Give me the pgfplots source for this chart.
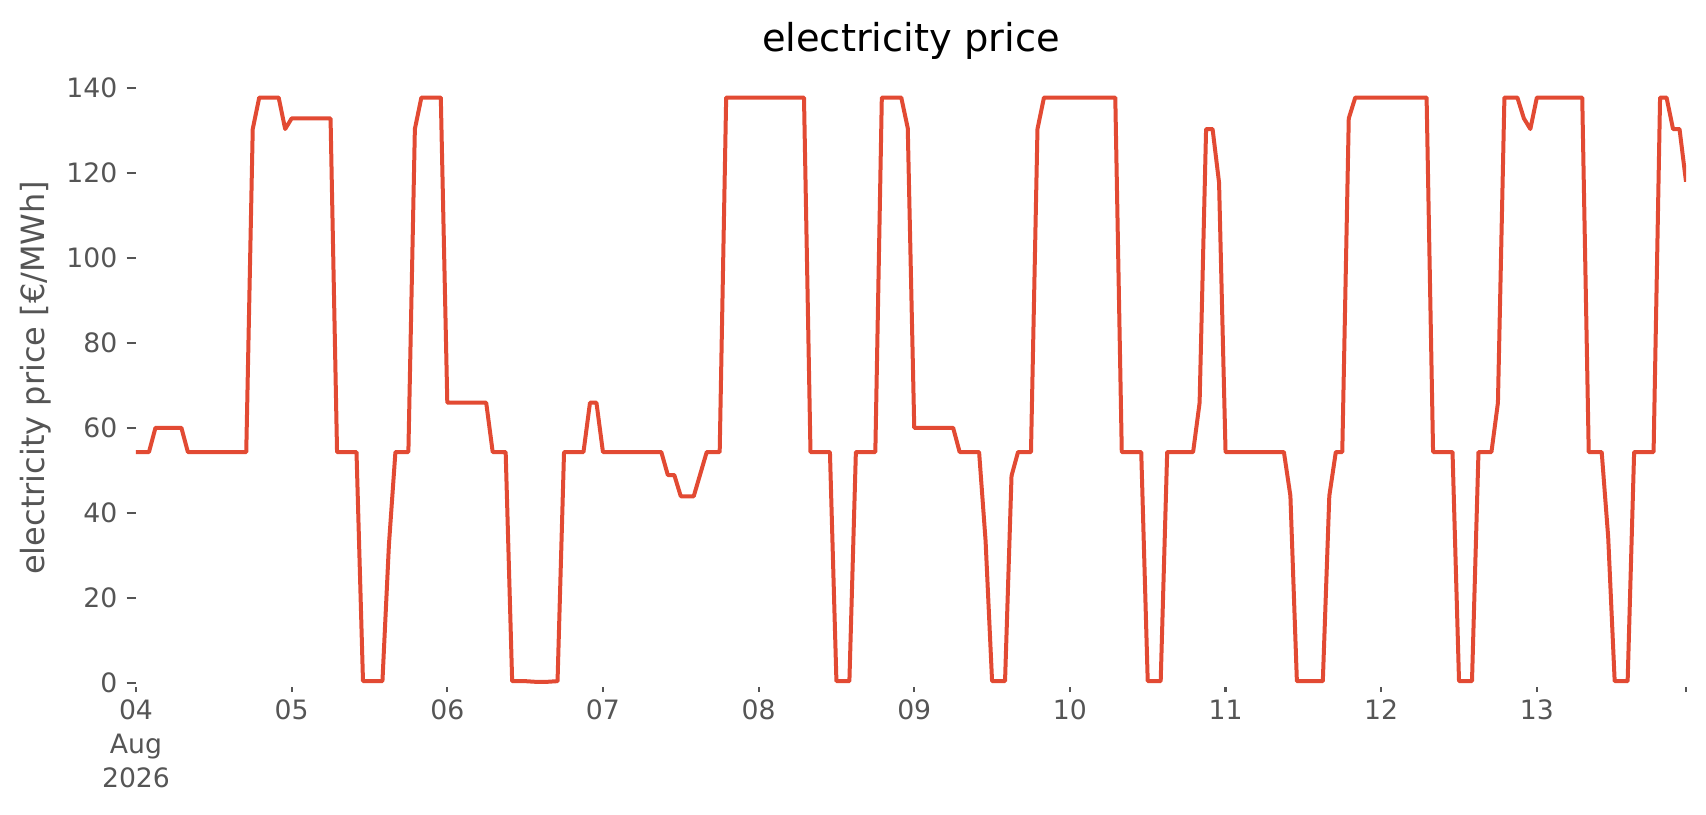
\documentclass[border=0pt]{standalone}
\usepackage{fontspec}
\setmainfont{DejaVu Sans}
\usepackage{pgfplots}
\usepackage{pgfplotstable}
\pgfplotsset{compat=1.18}
\definecolor{lineRed}{HTML}{E24A33}
\definecolor{tickGrey}{HTML}{555555}
\pgfplotstableread{
h v
0 54.4
1 54.4
2 54.4
3 60.1
4 60.1
5 60.1
6 60.1
7 60.1
8 54.4
9 54.4
10 54.4
11 54.4
12 54.4
13 54.4
14 54.4
15 54.4
16 54.4
17 54.4
18 130.4
19 137.8
20 137.8
21 137.8
22 137.8
23 130.4
24 132.9
25 132.9
26 132.9
27 132.9
28 132.9
29 132.9
30 132.9
31 54.4
32 54.4
33 54.4
34 54.4
35 0.5
36 0.5
37 0.5
38 0.5
39 32.6
40 54.4
41 54.4
42 54.4
43 130.4
44 137.8
45 137.8
46 137.8
47 137.8
48 66.0
49 66.0
50 66.0
51 66.0
52 66.0
53 66.0
54 66.0
55 54.4
56 54.4
57 54.4
58 0.5
59 0.5
60 0.5
61 0.4
62 0.3
63 0.3
64 0.4
65 0.5
66 54.4
67 54.4
68 54.4
69 54.4
70 66.0
71 66.0
72 54.4
73 54.4
74 54.4
75 54.4
76 54.4
77 54.4
78 54.4
79 54.4
80 54.4
81 54.4
82 49.0
83 49.0
84 44.0
85 44.0
86 44.0
87 49.2
88 54.4
89 54.4
90 54.4
91 137.8
92 137.8
93 137.8
94 137.8
95 137.8
96 137.8
97 137.8
98 137.8
99 137.8
100 137.8
101 137.8
102 137.8
103 137.8
104 54.4
105 54.4
106 54.4
107 54.4
108 0.5
109 0.5
110 0.5
111 54.4
112 54.4
113 54.4
114 54.4
115 137.8
116 137.8
117 137.8
118 137.8
119 130.6
120 60.1
121 60.1
122 60.1
123 60.1
124 60.1
125 60.1
126 60.1
127 54.4
128 54.4
129 54.4
130 54.4
131 33.5
132 0.5
133 0.5
134 0.5
135 48.8
136 54.4
137 54.4
138 54.4
139 130.4
140 137.8
141 137.8
142 137.8
143 137.8
144 137.8
145 137.8
146 137.8
147 137.8
148 137.8
149 137.8
150 137.8
151 137.8
152 54.4
153 54.4
154 54.4
155 54.4
156 0.5
157 0.5
158 0.5
159 54.4
160 54.4
161 54.4
162 54.4
163 54.4
164 66.0
165 130.4
166 130.4
167 117.8
168 54.4
169 54.4
170 54.4
171 54.4
172 54.4
173 54.4
174 54.4
175 54.4
176 54.4
177 54.4
178 44.1
179 0.5
180 0.5
181 0.5
182 0.5
183 0.5
184 44.1
185 54.4
186 54.4
187 132.9
188 137.8
189 137.8
190 137.8
191 137.8
192 137.8
193 137.8
194 137.8
195 137.8
196 137.8
197 137.8
198 137.8
199 137.8
200 54.4
201 54.4
202 54.4
203 54.4
204 0.5
205 0.5
206 0.5
207 54.4
208 54.4
209 54.4
210 66.0
211 137.8
212 137.8
213 137.8
214 132.9
215 130.4
216 137.8
217 137.8
218 137.8
219 137.8
220 137.8
221 137.8
222 137.8
223 137.8
224 54.4
225 54.4
226 54.4
227 34.4
228 0.5
229 0.5
230 0.5
231 54.4
232 54.4
233 54.4
234 54.4
235 137.8
236 137.8
237 130.4
238 130.4
239 118.0
}\pricetable
\begin{document}
\begin{tikzpicture}
\begin{axis}[
  scale only axis, width=581.25pt, height=231.75pt,
  xmin=0, xmax=239, ymin=-0.8, ymax=144.6,
  axis line style={draw=none},
  tick align=outside, xtick pos=bottom, ytick pos=left,
  major tick length=3.5pt,
  tick style={draw=tickGrey, line width=0.8pt},
  xtick={24,48,...,216},
  xticklabels={05,06,07,08,09,10,11,12,13},
  xtick style={/pgfplots/major tick length=2pt},
  extra x ticks={0,239},
  extra x tick labels={{04\\Aug\\2026},{}},
  extra x tick style={/pgfplots/major tick length=3.5pt},
  ytick={0,20,...,140},
  ticklabel style={font=\fontsize{10}{12.6}\selectfont, text=tickGrey},
  xticklabel style={align=center, yshift=2pt},
  /pgf/number format/assume math mode=true,
  title={electricity price},
  title style={font=\fontsize{14.4}{17}\selectfont, at={(axis description cs:0.5,1)}, anchor=base, yshift=0.5pt},
  ylabel={electricity price [€/MWh]},
  ylabel style={font=\fontsize{12}{14}\selectfont, text=tickGrey, at={(axis description cs:-0.0645,0.5)}, anchor=center},
]
\addplot[draw=lineRed, line width=1.5pt, line join=round, mark=none] table[x=h, y=v] {\pricetable};
\end{axis}
\pgfresetboundingbox
\path[use as bounding box] (-51pt,-48.07pt) rectangle (588.75pt,257.5pt);
\end{tikzpicture}
\end{document}
